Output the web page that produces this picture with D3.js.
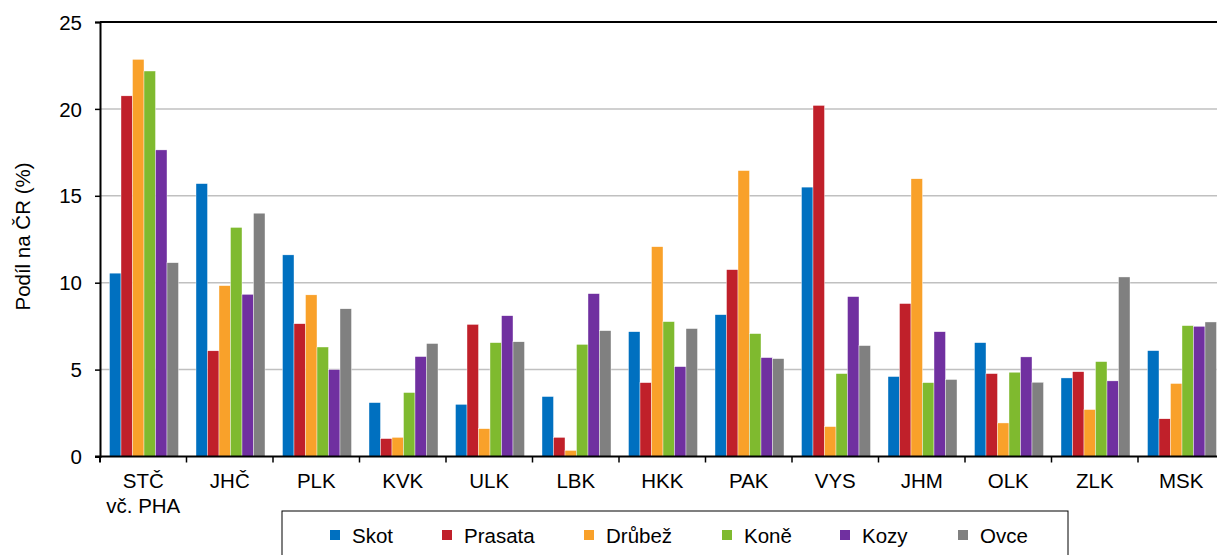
<!DOCTYPE html>
<html>
<head>
<meta charset="utf-8">
<script src="https://cdn.jsdelivr.net/npm/d3@7"></script>
<style>
  body { margin: 0; background: #fff; }
  svg text { font-family: "Liberation Sans", Arial, sans-serif; fill: #000; }
</style>
</head>
<body>
<div id="chart"></div>
<script>
    // kraje
    var categories = ["STČ|vč. PHA", "JHČ", "PLK", "KVK", "ULK", "LBK", "HKK", "PAK", "VYS", "JHM", "OLK", "ZLK", "MSK"];
    var series = ["Skot", "Prasata", "Drůbež", "Koně", "Kozy", "Ovce"];
    var colors = ["#0070C0", "#C0202A", "#F9A12A", "#7FBA2F", "#7030A0", "#808080"];

    var skot    = [10.55, 15.7, 11.6, 3.1, 3.0, 3.45, 7.18, 8.16, 15.5, 4.6, 6.55, 4.52, 6.09];
    var prasata = [20.75, 6.08, 7.64, 1.03, 7.6, 1.1, 4.25, 10.75, 20.2, 8.8, 4.77, 4.88, 2.17];
    var drubez  = [22.85, 9.83, 9.3, 1.1, 1.6, 0.35, 12.07, 16.45, 1.72, 15.98, 1.93, 2.7, 4.2];
    var kone    = [22.18, 13.18, 6.3, 3.68, 6.55, 6.45, 7.76, 7.07, 4.77, 4.25, 4.85, 5.46, 7.53];
    var kozy    = [17.64, 9.33, 5.0, 5.75, 8.1, 9.37, 5.17, 5.69, 9.2, 7.18, 5.73, 4.35, 7.49];
    var ovce    = [11.15, 14.0, 8.5, 6.5, 6.6, 7.24, 7.36, 5.63, 6.38, 4.43, 4.27, 10.33, 7.74];
    var values = [skot, prasata, drubez, kone, kozy, ovce];

    var yTicks = [0, 5, 10, 15, 20, 25];

    var width = 1217, height = 555;
    var margin = { left: 100, top: 22, bottom: 98 };
    var groupW = 86.5;
    var fs = "20.5px";

    var svg = d3.select("#chart").append("svg")
        .attr("width", width)
        .attr("height", height);

    var x0 = d3.scaleBand()
        .domain(categories)
        .range([margin.left, margin.left + groupW * categories.length])
        .padding(0);

    var x1 = d3.scaleBand()
        .domain(series)
        .range([9.5, 78.5])
        .padding(0);

    var y = d3.scaleLinear()
        .domain([0, 25])
        .range([456.5, margin.top]);

    // grid
    svg.append("g").selectAll("line")
        .data(yTicks.filter(function(d) { return d > 0 && d < 25; }))
        .enter().append("line")
        .attr("x1", margin.left).attr("x2", width)
        .attr("y1", function(d) { return y(d); })
        .attr("y2", function(d) { return y(d); })
        .attr("stroke", "#C0C0C0")
        .attr("stroke-width", 1.5);

    // top line
    svg.append("line")
        .attr("x1", margin.left).attr("x2", width)
        .attr("y1", y(25)).attr("y2", y(25))
        .attr("stroke", "#000").attr("stroke-width", 2);

    // bars
    var rows = categories.map(function(c, i) {
        return series.map(function(s, j) { return { cat: c, key: s, value: values[j][i], color: colors[j] }; });
    });

    svg.append("g").selectAll("g")
        .data(rows)
        .enter().append("g")
        .attr("transform", function(d, i) { return "translate(" + x0(categories[i]) + ",0)"; })
        .selectAll("rect")
        .data(function(d) { return d; })
        .enter().append("rect")
        .attr("x", function(d) { return x1(d.key); })
        .attr("width", x1.bandwidth())
        .attr("y", function(d) { return y(d.value); })
        .attr("height", function(d) { return y(0) - y(d.value); })
        .attr("fill", function(d) { return d.color; })
        .attr("stroke", "#fff")
        .attr("stroke-width", 0.4);

    // y axis
    var yAxis = svg.append("g")
        .attr("transform", "translate(" + margin.left + ",0)")
        .call(d3.axisLeft(y).tickValues(yTicks).tickSize(5).tickPadding(13));
    yAxis.select(".domain").attr("stroke", "#000").attr("stroke-width", 2);
    yAxis.selectAll(".tick line").attr("stroke", "#000").attr("stroke-width", 1.5);
    yAxis.selectAll("text").style("font-size", fs).attr("dy", "0.35em");

    // x axis
    var xAxis = svg.append("g")
        .attr("transform", "translate(0," + y(0) + ")");
    xAxis.append("line")
        .attr("x1", margin.left - 5).attr("x2", width)
        .attr("stroke", "#000").attr("stroke-width", 2);
    xAxis.selectAll(".tk")
        .data(categories)
        .enter().append("line")
        .attr("class", "tk")
        .attr("x1", function(d) { return x0(d) + groupW; })
        .attr("x2", function(d) { return x0(d) + groupW; })
        .attr("y1", 0).attr("y2", 6)
        .attr("stroke", "#000").attr("stroke-width", 1.5);
    xAxis.append("line")
        .attr("x1", margin.left).attr("x2", margin.left)
        .attr("y1", 0).attr("y2", 6)
        .attr("stroke", "#000").attr("stroke-width", 2);

    var lab = xAxis.selectAll(".lab")
        .data(categories)
        .enter().append("text")
        .attr("class", "lab")
        .attr("text-anchor", "middle")
        .style("font-size", fs)
        .attr("transform", function(d) { return "translate(" + (x0(d) + groupW / 2) + ",31.5)"; });
    lab.selectAll("tspan")
        .data(function(d) { return d.split("|"); })
        .enter().append("tspan")
        .attr("x", 0)
        .attr("y", function(d, i) { return i * 25; })
        .text(function(d) { return d; });

    // y title
    svg.append("text")
        .attr("transform", "translate(29.5,236.5) rotate(-90)")
        .attr("text-anchor", "middle")
        .style("font-size", fs)
        .text("Podíl na ČR (%)");

    // legend
    var legend = svg.append("g");
    legend.append("rect")
        .attr("x", 282).attr("y", 511)
        .attr("width", 786).attr("height", 60)
        .attr("fill", "#fff").attr("stroke", "#000").attr("stroke-width", 1);
    var legX = [330, 442, 584, 722, 840, 958];
    var item = legend.selectAll(".li")
        .data(series)
        .enter().append("g")
        .attr("class", "li")
        .attr("transform", function(d, i) { return "translate(" + legX[i] + ",530)"; });
    item.append("rect")
        .attr("width", 10).attr("height", 10)
        .attr("fill", function(d, i) { return colors[i]; });
    item.append("text")
        .attr("x", 22).attr("y", 12.5)
        .style("font-size", fs)
        .text(function(d) { return d; });
</script>
</body>
</html>
